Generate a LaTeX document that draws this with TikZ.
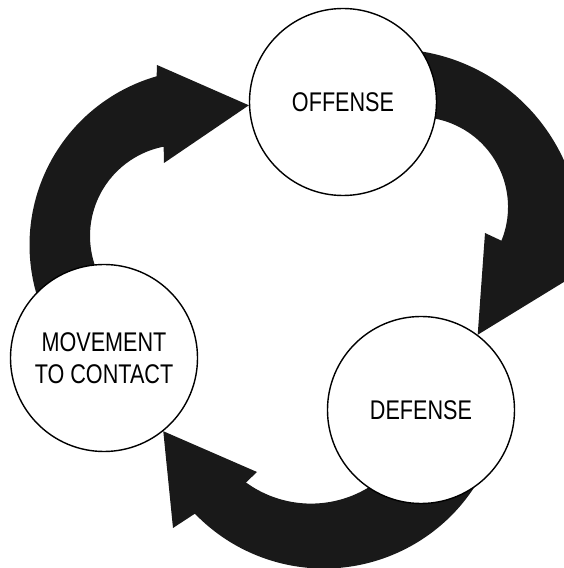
\documentclass[tikz,border=0pt]{standalone}
\usepackage{fontspec}
\newfontfamily\stagefont[FakeStretch=0.8]{Liberation Sans}
\usetikzlibrary{backgrounds}

\begin{document}
\begin{tikzpicture}[
  x=1pt, y=1pt,
  stage/.style={draw, circle, fill=white, line width=1.4pt, minimum size=187pt,
    inner sep=0pt, align=center, font=\stagefont\fontsize{27}{32}\selectfont},
  band/.style={fill=black!90},
]
  \useasboundingbox (0,0) rectangle (564,568);

  \node (offense)  [stage] at (343,466) {OFFENSE};
  \node (defense)  [stage] at (421,158) {DEFENSE};
  \node (movement) [stage] at (104,210) {MOVEMENT\\TO CONTACT};

  \begin{scope}[on background layer]
    % offense -> defense
    \fill[band] (offense.center) -- ([shift={(391,329)}]95:190)
      arc[start angle=95, end angle=-12, radius=190]
      -- (572,291) -- (defense.53) -- (485,335)
      -- ([shift={(418,361)}]-22:90) arc[start angle=-22, end angle=100, radius=90]
      -- cycle;
    % defense -> movement to contact
    \fill[band] (defense.center) -- ([shift={(324,179)}]-20:179.5)
      arc[start angle=-20, end angle=-136, radius=179.5]
      -- (173,40) -- (movement.-51) -- (257,96)
      -- ([shift={(311,175)}]-126:110.6) arc[start angle=-126, end angle=-30, radius=110.6]
      -- cycle;
    % movement to contact -> offense
    \fill[band] (movement.center) -- ([shift={(205,323)}]205:175.5)
      arc[start angle=205, end angle=106, radius=175.5]
      -- (157,503) -- (offense.182) -- (164,405)
      -- ([shift={(181,332)}]101:91) arc[start angle=101, end angle=215, radius=91]
      -- cycle;
  \end{scope}
\end{tikzpicture}
\end{document}
